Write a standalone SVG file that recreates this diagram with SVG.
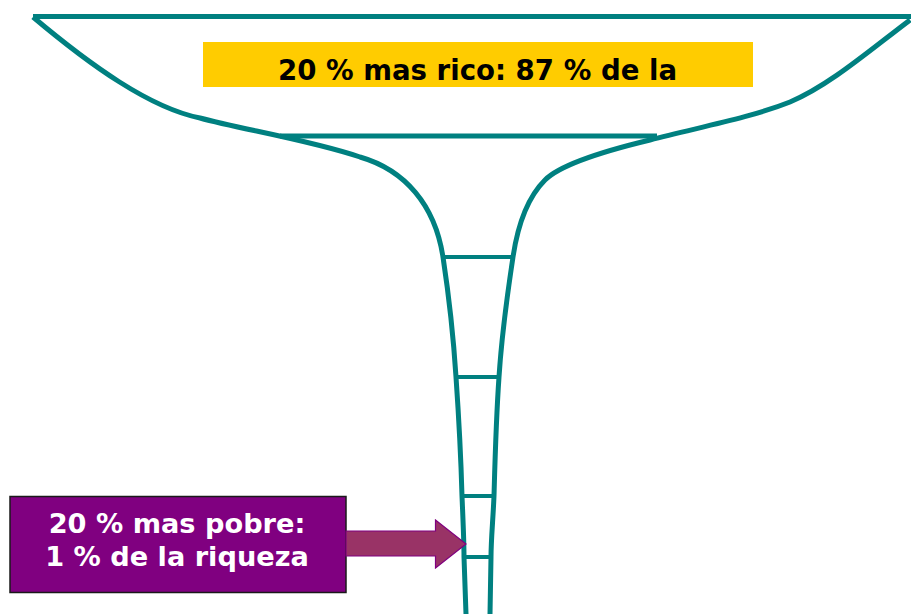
<svg xmlns="http://www.w3.org/2000/svg" width="911" height="614" viewBox="0 0 911 614">
<style>
.f{fill:none;stroke:#008080;stroke-width:5;stroke-linejoin:round}
.r{fill:none;stroke:#008080;stroke-width:4}
.t{font-family:"DejaVu Sans","Liberation Sans",sans-serif;font-weight:bold;text-anchor:middle}
</style>
<rect width="911" height="614" fill="#fff"/>
<g id="funnel">
<path class="f" d="M33,16.5 L911,16.5"/>
<path class="f" d="M33,17 C90,65 150,108 200,118 C240,129 310,140 360,157 C405,170 435,205 443,257 C448,290 453,330 456,377 C459,420 461,460 462,496 C463,520 464,540 464,557 L466,614"/>
<path class="f" d="M910,20 C870,50 830,85 790,102 C750,118 700,127 650,140 C600,152 560,165 545,180 C525,200 517,230 513,257 C508,290 502,330 499,377 C496,420 495,460 494,496 C493,520 491,540 491,557 L490,614"/>
<path class="f" d="M280,136 L657,136"/>
<path class="r" d="M443,257 L513,257 M456,377 L499,377 M462,496 L494,496 M464,557 L491,557"/>
</g>
<g id="top-label">
<rect x="203" y="42" width="550" height="45" fill="#FFCC00"/>
<text class="t" x="477.5" y="79.5" fill="#000" font-size="27.6">20 % mas rico: 87 % de la</text>
</g>
<g id="bottom-label">
<rect x="10" y="496.5" width="336" height="96" fill="#800080" stroke="#1a1a1a" stroke-width="1.5"/>
<text class="t" x="177" y="533" fill="#fff" font-size="27.2">20 % mas pobre:</text>
<text class="t" x="177" y="566" fill="#fff" font-size="27.2">1 % de la riqueza</text>
</g>
<g id="connectors">
<path d="M346,531 L435.5,531 L435.5,520 L466,544 L435.5,568 L435.5,556 L346,556 Z" fill="#993366" stroke="#800080" stroke-width="1.2"/>
</g>
</svg>
